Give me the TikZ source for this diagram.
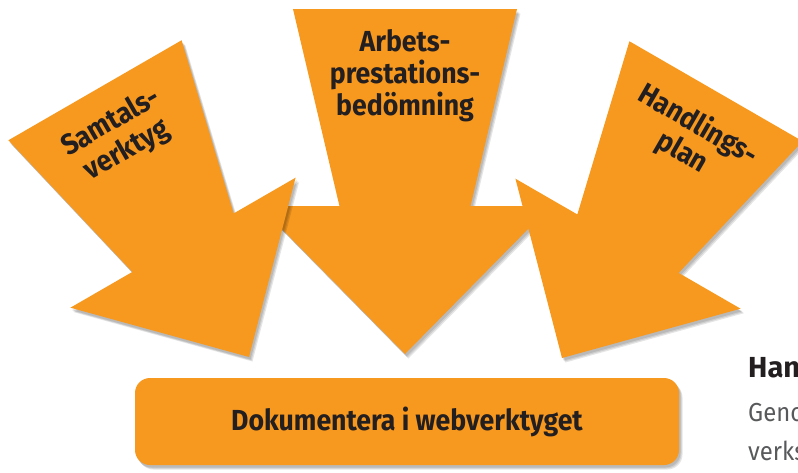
\documentclass[tikz,border=0pt]{standalone}
\usepackage{fontspec}
\setmainfont{Fira Sans}
\newfontfamily\dinfont[FakeStretch=0.92]{Fira Sans}
\definecolor{pilorange}{HTML}{F7981F}
\definecolor{textdark}{HTML}{231F20}
\definecolor{textgray}{HTML}{58595B}
\tikzset{
  skugga/.style={preaction={fill=black, opacity=0.1, transform canvas={shift={(#1)}}}},
  orangeshape/.style={fill=pilorange, skugga={1.5pt,-2.5pt}, skugga={2.5pt,-3.5pt}, skugga={3.5pt,-4.5pt}},
  pil/.pic={
    \path[orangeshape] (0,0) -- (130,-132) -- (58.5,-132) -- (100,-308)
      -- (-100,-308) -- (-58.5,-132) -- (-130,-132) -- cycle;
  },
  piltext/.style={font=\dinfont\bfseries\fontsize{29}{32}\selectfont, text=textdark, align=center},
  docbox/.style={orangeshape, rounded corners=15pt, minimum width=544pt, minimum height=87pt,
    font=\dinfont\bfseries\fontsize{29}{32}\selectfont, text=textdark}
}
\begin{document}
\begin{tikzpicture}[x=1pt, y=-1pt]
  \useasboundingbox (0,0) rectangle (798,472);
  % the three arrows, middle one first
  \foreach \x/\y/\r/\s/\n in {405/354/0/1.12/mitt, 249/357/30/1/vanster, 562/358/-30/1/hoger}{
    \pic[rotate=\r, scale=\s] (\n) at (\x,\y) {pil};
  };
  \node[piltext] (arbets) at (405,76) {Arbets-\\prestations-\\bedömning};
  \node[piltext, rotate=30] (samtal) at (119,137) {Samtals-\\verktyg};
  \node[piltext, rotate=-30] (handling) at (690,139) {Handlings-\\plan};
  % box
  \node[docbox] (doc) at (407,421.5) {Dokumentera i webverktyget};
  % text beside the picture
  \node[anchor=base west, inner sep=0pt, font=\bfseries\fontsize{29}{32}\selectfont, text=textdark]
    (rubrik) at (748,377) {Handlingsplan};
  \node[anchor=base west, inner sep=0pt, font=\dinfont\fontsize{26}{32}\selectfont, text=textgray]
    (rad1) at (748,421) {Genom};
  \node[anchor=base west, inner sep=0pt, font=\dinfont\fontsize{26}{32}\selectfont, text=textgray]
    (rad2) at (748,460) {verksamhet};
\end{tikzpicture}
\end{document}
